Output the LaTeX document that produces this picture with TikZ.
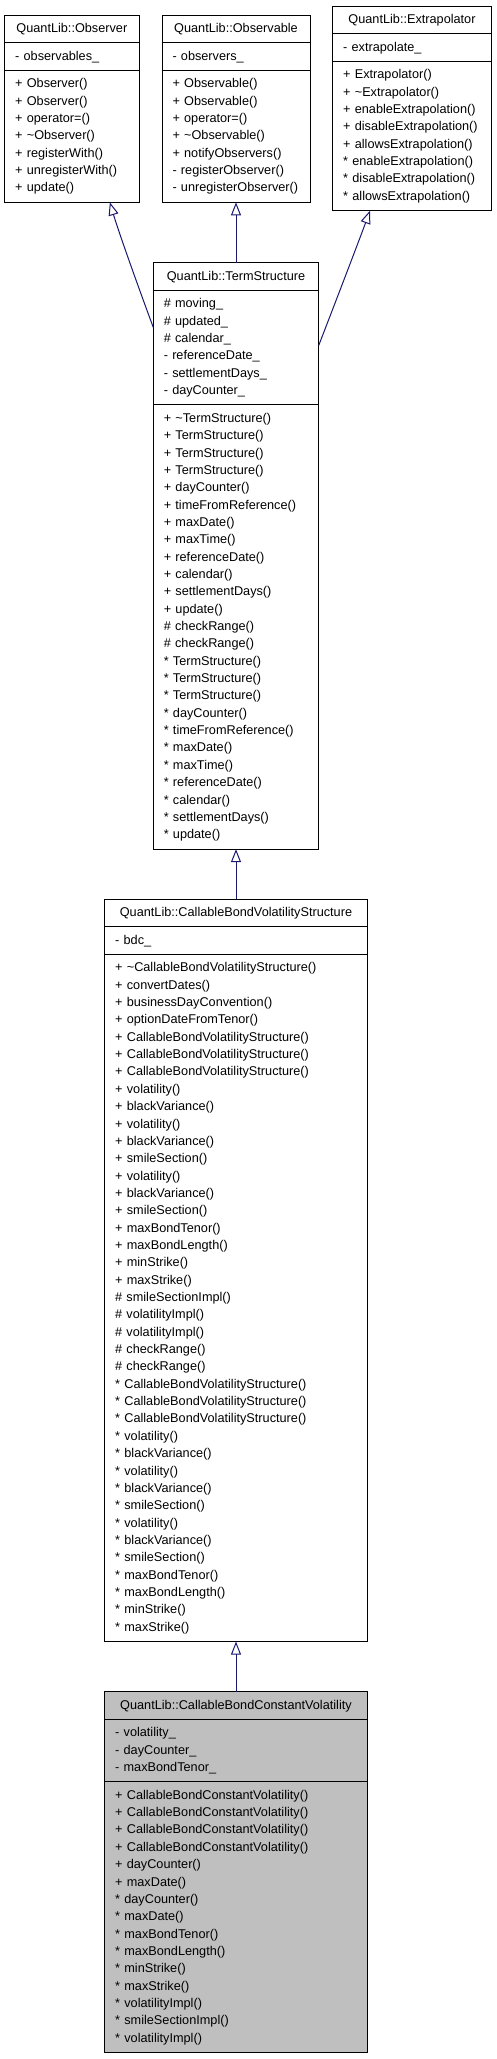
\documentclass[tikz,border=0pt]{standalone}
\usepackage{fontspec}
\setmainfont{Liberation Sans}
\usepackage{tikz}
\usetikzlibrary{positioning,arrows.meta}
\definecolor{edgeblue}{RGB}{25,25,112}
\definecolor{classgray}{RGB}{191,191,191}

\begin{document}
\begin{tikzpicture}[x=1pt,y=-1pt,
    compartment/.style={draw=black, line width=1pt, outer sep=0pt, inner xsep=10.5pt, inner ysep=5.2pt,
        font=\fontsize{12.7}{17.35}\selectfont, execute at begin node=\strut, execute at end node=\strut},
    classname/.style={compartment, align=center, anchor=north},
    members/.style={compartment, align=left},
    inherit/.style={draw=edgeblue, line width=1pt, -{Triangle[open,length=13pt,width=10pt]}}]

\useasboundingbox (0,0) rectangle (496,2059);

% Base classes
\node[classname, text width=113.3pt] (obstitle) at (71.85,15) {QuantLib::Observer};
\node[members, text width=113.3pt, below=0pt of obstitle] (obsattr) {- observables\_};
\node[members, text width=113.3pt, below=0pt of obsattr] (obsops) {+ Observer()\\+ Observer()\\+ operator=()\\+ \textasciitilde Observer()\\+ registerWith()\\+ unregisterWith()\\+ update()};

\node[classname, text width=127pt] (obsvtitle) at (236,15) {QuantLib::Observable};
\node[members, text width=127pt, below=0pt of obsvtitle] (obsvattr) {- observers\_};
\node[members, text width=127pt, below=0pt of obsvattr] (obsvops) {+ Observable()\\+ Observable()\\+ operator=()\\+ \textasciitilde Observable()\\+ notifyObservers()\\- registerObserver()\\- unregisterObserver()};

\node[classname, text width=137.6pt] (exttitle) at (412,6) {QuantLib::Extrapolator};
\node[members, text width=137.6pt, below=0pt of exttitle] (extattr) {- extrapolate\_};
\node[members, text width=137.6pt, below=0pt of extattr] (extops) {+ Extrapolator()\\+ \textasciitilde Extrapolator()\\+ enableExtrapolation()\\+ disableExtrapolation()\\+ allowsExtrapolation()\\{}* enableExtrapolation()\\{}* disableExtrapolation()\\{}* allowsExtrapolation()};

% Term structure
\node[classname, text width=144.4pt] (tstitle) at (236,262.7) {QuantLib::TermStructure};
\node[members, text width=144.4pt, below=0pt of tstitle] (tsattr) {\# moving\_\\\# updated\_\\\# calendar\_\\- referenceDate\_\\- settlementDays\_\\- dayCounter\_};
\node[members, text width=144.4pt, below=0pt of tsattr] (tsops) {+ \textasciitilde TermStructure()\\+ TermStructure()\\+ TermStructure()\\+ TermStructure()\\+ dayCounter()\\+ timeFromReference()\\+ maxDate()\\+ maxTime()\\+ referenceDate()\\+ calendar()\\+ settlementDays()\\+ update()\\\# checkRange()\\\# checkRange()\\{}* TermStructure()\\{}* TermStructure()\\{}* TermStructure()\\{}* dayCounter()\\{}* timeFromReference()\\{}* maxDate()\\{}* maxTime()\\{}* referenceDate()\\{}* calendar()\\{}* settlementDays()\\{}* update()};

% Volatility structure
\node[classname, text width=241.6pt] (cbvstitle) at (236,899) {QuantLib::CallableBondVolatilityStructure};
\node[members, text width=241.6pt, below=0pt of cbvstitle] (cbvsattr) {- bdc\_};
\node[members, text width=241.6pt, below=0pt of cbvsattr] (cbvsops) {+ \textasciitilde CallableBondVolatilityStructure()\\+ convertDates()\\+ businessDayConvention()\\+ optionDateFromTenor()\\+ CallableBondVolatilityStructure()\\+ CallableBondVolatilityStructure()\\+ CallableBondVolatilityStructure()\\+ volatility()\\+ blackVariance()\\+ volatility()\\+ blackVariance()\\+ smileSection()\\+ volatility()\\+ blackVariance()\\+ smileSection()\\+ maxBondTenor()\\+ maxBondLength()\\+ minStrike()\\+ maxStrike()\\\# smileSectionImpl()\\\# volatilityImpl()\\\# volatilityImpl()\\\# checkRange()\\\# checkRange()\\{}* CallableBondVolatilityStructure()\\{}* CallableBondVolatilityStructure()\\{}* CallableBondVolatilityStructure()\\{}* volatility()\\{}* blackVariance()\\{}* volatility()\\{}* blackVariance()\\{}* smileSection()\\{}* volatility()\\{}* blackVariance()\\{}* smileSection()\\{}* maxBondTenor()\\{}* maxBondLength()\\{}* minStrike()\\{}* maxStrike()};

% The documented class
\node[classname, fill=classgray, text width=241.6pt] (cbcvtitle) at (236,1691.7) {QuantLib::CallableBondConstantVolatility};
\node[members, fill=classgray, text width=241.6pt, below=0pt of cbcvtitle] (cbcvattr) {- volatility\_\\- dayCounter\_\\- maxBondTenor\_};
\node[members, fill=classgray, text width=241.6pt, below=0pt of cbcvattr] (cbcvops) {+ CallableBondConstantVolatility()\\+ CallableBondConstantVolatility()\\+ CallableBondConstantVolatility()\\+ CallableBondConstantVolatility()\\+ dayCounter()\\+ maxDate()\\{}* dayCounter()\\{}* maxDate()\\{}* maxBondTenor()\\{}* maxBondLength()\\{}* minStrike()\\{}* maxStrike()\\{}* volatilityImpl()\\{}* smileSectionImpl()\\{}* volatilityImpl()};

% Adding the inheritance arrows
\draw[inherit] ([yshift=-37pt]tsattr.north west) .. controls (138.5,287.5) and (119,233) .. ([xshift=38pt]obsops.south);
\draw[inherit] (tstitle.north) -- (obsvops.south);
\draw[inherit] ([yshift=-55pt]tsattr.north east) .. controls (334,306) and (360,238) .. ([xshift=-42pt]extops.south);
\draw[inherit] (cbvstitle.north) -- (tsops.south);
\draw[inherit] (cbcvtitle.north) -- (cbvsops.south);

\end{tikzpicture}
\end{document}
